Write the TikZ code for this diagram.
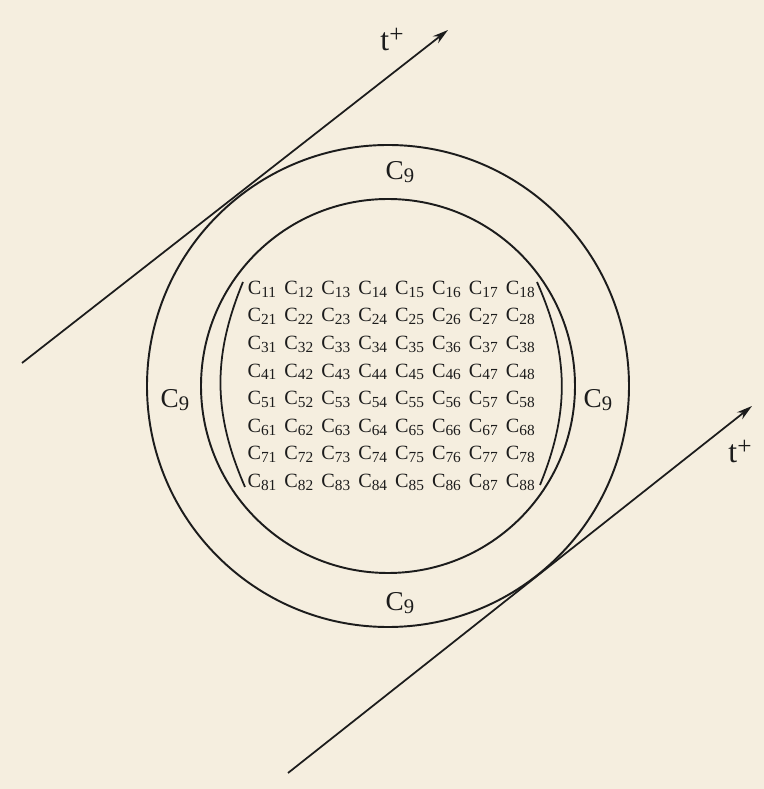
\documentclass[tikz,border=0pt]{standalone}
\usepackage{fontspec}
\setmainfont{Liberation Serif}
\usetikzlibrary{arrows.meta, calc}
\definecolor{paper}{HTML}{F5EEDF}
\definecolor{ink}{HTML}{1C1C1C}
\newcommand{\lowidx}[1]{\raisebox{-0.3ex}{\scalebox{0.76}{#1}}}
\newcommand{\upplus}{\raisebox{0.55ex}{\scalebox{0.8}{+}}}

\begin{document}
\begin{tikzpicture}[
    ring/.style={draw=ink, line width=1.1pt},
    brack/.style={draw=ink, line width=1pt},
    cell/.style={inner sep=0pt, text=ink, font=\fontsize{11.5}{13}\selectfont},
    ringlabel/.style={inner sep=0pt, text=ink, font=\fontsize{15.5}{17}\selectfont},
    tlabel/.style={inner sep=0pt, text=ink, font=\fontsize{18}{20}\selectfont},
    arrow/.style={-{Stealth[length=9pt, width=5pt]}, draw=ink, line width=1pt},
]

% Background and page size
\fill[paper] (0,0) rectangle (15.28,15.78);
\useasboundingbox (0,0) rectangle (15.28,15.78);

% Rings
\coordinate (o) at (7.76,8.06);
\draw[ring] (o) circle (4.82);
\draw[ring] (o) circle (3.74);

% Ring labels
\node[ringlabel] (c9top) at (8.0,12.34) {C\lowidx{9}};
\node[ringlabel] (c9bot) at (8.0,3.72) {C\lowidx{9}};
\node[ringlabel] (c9left) at (3.5,7.78) {C\lowidx{9}};
\node[ringlabel] (c9right) at (11.96,7.78) {C\lowidx{9}};

% Matrix entries
\foreach \r in {1,...,8} {
    \foreach \c in {1,...,8} {
        \node[cell] (c\r\c) at ({5.24+(\c-1)*0.738}, {10.0-(\r-1)*0.552}) {C\lowidx{\r\c}};
    }
}

% Brackets
\coordinate (lbtop) at (4.86,10.14);
\coordinate (lbbot) at (4.90,6.04);
\coordinate (rbtop) at (10.74,10.14);
\coordinate (rbbot) at (10.80,6.08);
\draw[brack] (lbtop) to[bend right=23] (lbbot);
\draw[brack] (rbtop) to[bend left=23] (rbbot);

% Tangent arrows
\coordinate (ta) at (0.44,8.52);
\coordinate (tb) at (8.96,15.18);
\coordinate (ua) at (5.76,0.32);
\coordinate (ub) at (15.04,7.66);
\draw[arrow] (ta) -- (tb);
\draw[arrow] (ua) -- (ub);
\node[tlabel] (ttop) at (7.84,14.98) {t\upplus};
\node[tlabel] (tbot) at (14.8,6.74) {t\upplus};

\end{tikzpicture}
\end{document}
